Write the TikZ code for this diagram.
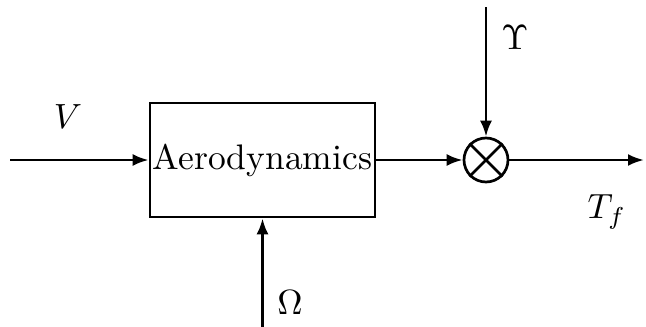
\documentclass[tikz,border=0pt]{standalone}
\usepackage{graphicx}
\usetikzlibrary{arrows.meta}
\begin{document}
\begin{tikzpicture}[x=1pt,y=-1pt,
  ln/.style={line width=2.7pt},
  arr/.style={ln,-{Latex[length=16pt,width=12pt]}},
  lbl/.style={inner sep=0pt},
  blk/.style={draw,ln,rectangle,minimum width=225pt,minimum height=114pt,inner sep=0pt},
  sumnode/.style={draw,ln,circle,minimum size=44pt,inner sep=0pt}]
\useasboundingbox (0,0) rectangle (646,327);
\node[blk] (box) at (262.5,160) {\scalebox{3.55}{Aerodynamics}};
\node[sumnode] (sum) at (486,160) {};
\draw[ln] (sum.north west) -- (sum.south east);
\draw[ln] (sum.north east) -- (sum.south west);
\coordinate (in) at (10,160);
\coordinate (top) at (486,7);
\coordinate (out) at (644,160);
\coordinate (bot) at (262.5,327);
\draw[arr] (in) -- (box.west);
\draw[arr] (box.east) -- (sum.west);
\draw[arr] (top) -- (sum.north);
\draw[arr] (sum.east) -- (out);
\draw[arr] (bot) -- (box.south);
\node[lbl] (v) at (68,117) {\scalebox{3.5}{$V$}};
\node[lbl] (u) at (515,38) {\scalebox{3.5}{$\Upsilon$}};
\node[lbl] (t) at (607,212) {\scalebox{3.5}{$T_f$}};
\node[lbl] (o) at (290,303) {\scalebox{3.5}{$\Omega$}};
\end{tikzpicture}
\end{document}
